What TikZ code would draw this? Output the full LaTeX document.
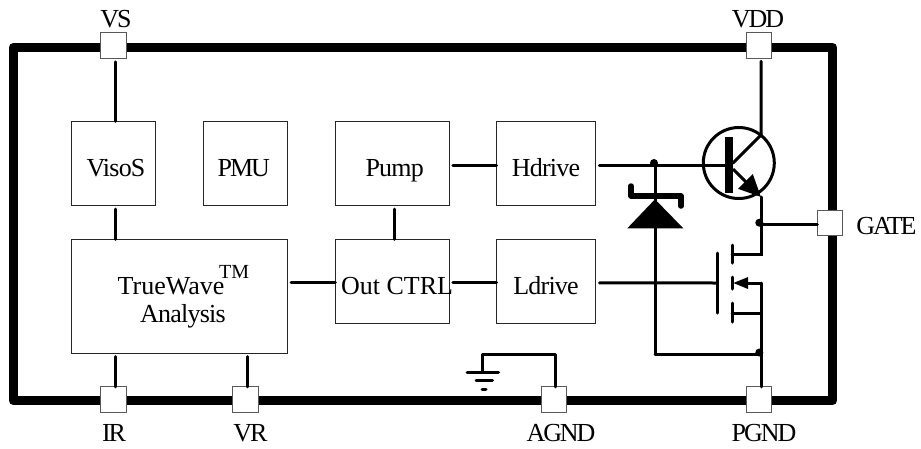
\documentclass[tikz,border=0pt]{standalone}
\usepackage{fontspec}
\setmainfont{Liberation Serif}
\usepackage{xcolor}
\usepackage{tikz}
\usetikzlibrary{arrows.meta}

\begin{document}
\begin{tikzpicture}[
	x=1pt,y=-1pt,
	line cap=round,
	font=\fontsize{26}{28}\selectfont
]
\tikzset{
    blockbox/.style = {rectangle, draw=black!85, line width=1pt, fill=white, inner sep=0pt, outer sep=0pt},
    pinbox/.style = {rectangle, draw=black!65, line width=1pt, fill=white, inner sep=0pt, outer sep=0pt, minimum width=25.5pt, minimum height=25.5pt},
    capstext/.style = {anchor=base, inner sep=0pt, font=\fontsize{26}{28}\selectfont\addfontfeature{LetterSpace=-8}},
    snugtext/.style = {anchor=base, inner sep=0pt, font=\fontsize{26}{28}\selectfont\addfontfeature{LetterSpace=-3}},
    plaintext/.style = {anchor=base, inner sep=0pt},
    wire/.style = {line width=3pt},
    feed/.style = {wire, shorten <=3.5pt},
    junction/.style = {circle, fill=black, inner sep=0pt, minimum size=8pt}
}
\useasboundingbox (0,0) rectangle (921,448);

% package outline
\draw[line width=9pt, line join=round] (13,47.5) rectangle (832.5,400.5);

% blocks
\node[blockbox,minimum width=84.4pt,minimum height=84.4pt] (VisoS) at (113.5,163.5) {};
\node[blockbox,minimum width=84.4pt,minimum height=84.4pt] (PMU) at (245.5,163.5) {};
\node[blockbox,minimum width=114pt,minimum height=84.4pt] (Pump) at (392.3,163.5) {};
\node[blockbox,minimum width=99.3pt,minimum height=84.4pt] (Hdrive) at (546.3,163.5) {};
\node[blockbox,minimum width=216.4pt,minimum height=113.7pt] (TrueWave) at (179.5,296.2) {};
\node[blockbox,minimum width=114pt,minimum height=84pt] (OutCTRL) at (392.3,281.3) {};
\node[blockbox,minimum width=99.3pt,minimum height=84pt] (Ldrive) at (546.3,281.3) {};

% pins
\node[pinbox] (VSpin) at (113.5,45.5) {};
\node[pinbox] (VDDpin) at (759,45.5) {};
\node[pinbox] (GATEpin) at (830,223) {};
\node[pinbox] (IRpin) at (113.5,399.7) {};
\node[pinbox] (VRpin) at (245.3,399.7) {};
\node[pinbox] (AGNDpin) at (554,399.7) {};
\node[pinbox] (PGNDpin) at (759,399.7) {};

% block texts
\node[snugtext] (VisoSText) at (116,176) {VisoS};
\node[capstext] (PMUText) at (243.7,176) {PMU};
\node[snugtext] (PumpText) at (394.7,176) {Pump};
\node[snugtext] (HdriveText) at (546,176) {Hdrive};
\node[plaintext] (OutText) at (397,294) {Out CTRL};
\node[snugtext] (LdriveText) at (546,294) {Ldrive};
\node[plaintext] (TrueText) at (171,294) {TrueWave};
\node[anchor=base west,inner sep=0pt,font=\fontsize{20}{22}\selectfont] (TMText) at (219,278) {TM};
\node[snugtext] (AnalysisText) at (183,322) {Analysis};

% pin texts
\node[capstext] (VSText) at (116,27.7) {VS};
\node[capstext] (VDDText) at (758,27.7) {VDD};
\node[capstext] (GATEText) at (886.5,234) {GATE};
\node[capstext] (IRText) at (114,441) {IR};
\node[capstext] (VRText) at (250.5,441) {VR};
\node[capstext] (AGNDText) at (561,441) {AGND};
\node[capstext] (PGNDText) at (764,441) {PGND};

% block wiring
\draw[feed] ([xshift=1.5pt]VSpin.south) -- ([xshift=1.5pt]VisoS.north);
\draw[feed] ([xshift=1.5pt]VisoS.south) -- ([xshift=1.5pt]VisoS.south |- TrueWave.north);
\draw[feed] ([xshift=2.5pt]Pump.south) -- ([xshift=2.5pt]OutCTRL.north);
\draw[feed] ([yshift=-1.5pt]Pump.east) -- ([yshift=-1.5pt]Hdrive.west);
\draw[feed] ([yshift=-1.5pt]OutCTRL.east) -- ([yshift=-1.5pt]Ldrive.west);
\draw[feed] ([yshift=-1.5pt]TrueWave.east |- OutCTRL.west) -- ([yshift=-1.5pt]OutCTRL.west);
\draw[feed] ([xshift=1.5pt]IRpin.north |- TrueWave.south) -- ([xshift=1.5pt]IRpin.north);
\draw[feed] ([xshift=1.7pt]VRpin.north |- TrueWave.south) -- ([xshift=1.7pt]VRpin.north);

% high side transistor
\coordinate (Tcenter) at (738.8,163);
\coordinate (Tcoll) at (761,135);
\coordinate (Temit) at (761,197);
\coordinate (Tbase) at (729,165);
\draw[wire] (Tcenter) circle (35.5);
\draw[line width=8pt,line cap=butt] (729,137) -- (729,193);
\draw[feed] ([yshift=-1.5pt]Hdrive.east) -- (Tbase);
\draw[wire] ([xshift=2pt]VDDpin.south) ++(0,3) -- (Tcoll) -- (733,163);
\draw[wire,line cap=butt,-{Triangle[length=22pt,width=20pt]}] (733,169) -- (Temit);

% body diode
\coordinate (Dtop) at (655,165);
\coordinate (Dbot) at (655,354);
\node[junction] (DiodeDot) at (654,163) {};
\draw[wire] (Dtop) -- (Dbot);
\fill (655,199.3) -- (683.3,228.3) -- (627.3,228.3) -- cycle;
\draw[line width=5.5pt,line join=round] (631,186) -- (631,196) -- (681,196) -- (681,206);

% low side mosfet
\draw[feed] ([yshift=-1.5pt]Ldrive.east) -- (717,283);
\draw[wire] (717.5,253) -- (717.5,313);
\draw[wire] (732,245) -- (732,263);
\draw[wire] (732,277) -- (732,289);
\draw[wire] (732,303) -- (732,322);
\draw[wire] (Temit) -- (761,254) -- (732,254);
\draw[wire,-{Triangle[length=15pt,width=11pt]}] (761,283) -- (733,283);
\draw[wire] (732,313) -- (761,313);
\draw[wire] (761,283) -- ([xshift=2pt]PGNDpin.north);
\draw[wire] (Dbot) -- (759,354);
\node[junction] (SourceDot) at (759.3,352.5) {};

% gate output
\node[junction] (GateDot) at (759.3,222.7) {};
\draw[wire] (761,224.3) -- ([yshift=-1.3pt]GATEpin.west);

% analog ground
\coordinate (Gtop) at (482.3,354);
\coordinate (Gnd) at (482.3,372);
\draw[wire,line join=round] ([xshift=1.7pt]AGNDpin.north) |- (Gtop) -- (Gnd);
\draw[wire] (467,372) -- (498.5,372);
\draw[wire] (476,380.7) -- (492.5,380.7);
\draw[wire] (482,389.7) -- (486,389.7);
\end{tikzpicture}
\end{document}
